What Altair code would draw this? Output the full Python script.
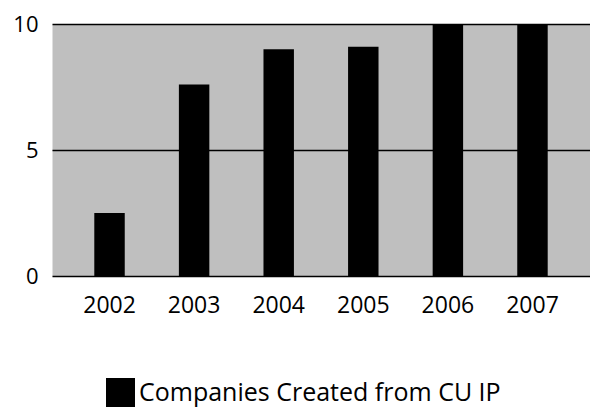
import altair as alt
import pandas as pd

years = ["2002", "2003", "2004", "2005", "2006", "2007"]
companies = [2.5, 7.6, 9.0, 9.1, 10, 10]
series_name = "Companies Created from CU IP"
y_ticks = [0, 5, 10]

df = pd.DataFrame({
    "year": years,
    "value": companies,
    "series": [series_name] * len(years),
})

FONT = "Open Sans"

chart = alt.Chart(df).mark_bar().encode(
    x=alt.X(
        "year:N",
        sort=years,
        scale=alt.Scale(paddingInner=0.64, paddingOuter=0.5),
        axis=alt.Axis(
            title=None, labelAngle=0, ticks=False, domain=False,
            labelFontSize=23, labelPadding=18, labelColor="black", labelFont=FONT,
        ),
    ),
    y=alt.Y(
        "value:Q",
        scale=alt.Scale(domain=[0, 10]),
        axis=alt.Axis(
            title=None, values=y_ticks, ticks=False, domain=False,
            grid=True, gridColor="black", gridWidth=1.5, gridOpacity=1,
            labelFontSize=22, labelPadding=14, labelColor="black", labelFont=FONT,
        ),
    ),
    color=alt.Color(
        "series:N",
        scale=alt.Scale(range=["black"]),
        legend=alt.Legend(
            title=None, orient="none", legendX=54, legendY=354,
            symbolType="square", symbolSize=841, symbolStrokeWidth=0,
            labelFontSize=25, labelFont=FONT, labelColor="black",
            labelOffset=4, labelLimit=0, padding=0,
        ),
    ),
).properties(
    width=538,
    height=252,
    autosize=alt.AutoSizeParams(type="none"),
    padding={"left": 44, "top": 16, "right": 0, "bottom": 132},
).configure_view(
    fill="#bfbfbf", strokeOpacity=0
)

chart.save("out.html", embed_options={"renderer": "svg", "actions": False})
